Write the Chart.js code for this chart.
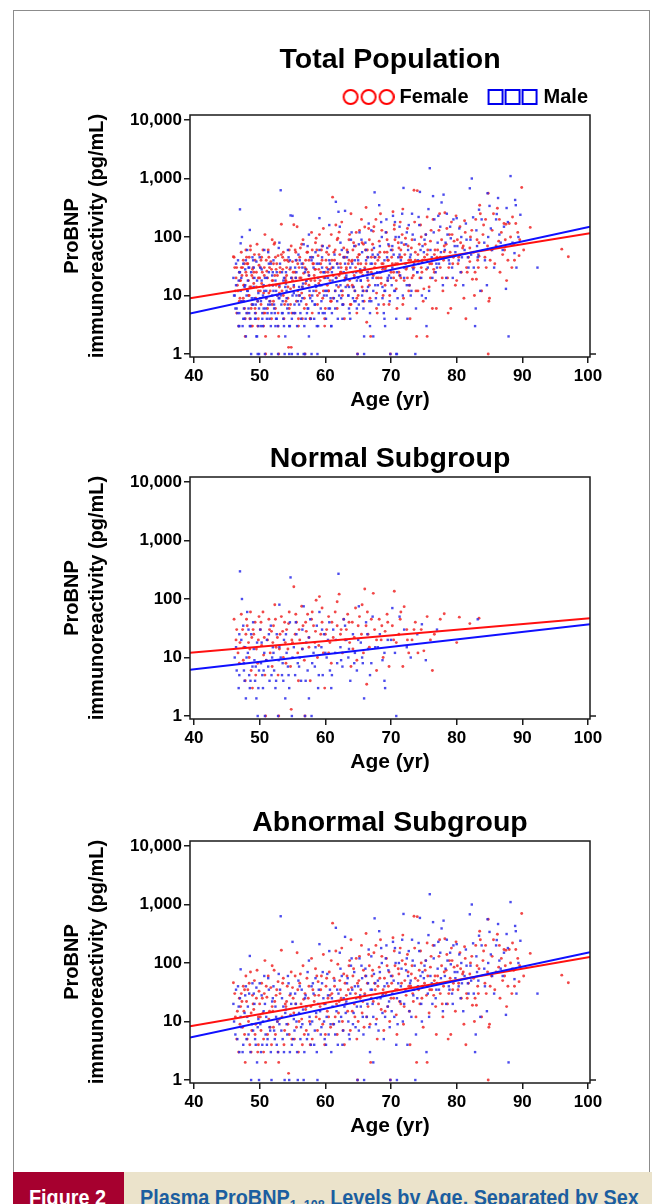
<!DOCTYPE html>
<html>
<head>
<meta charset="utf-8">
<script src="https://cdn.jsdelivr.net/npm/chart.js"></script>
<style>
  body { margin: 0; width: 657px; height: 1204px; overflow: hidden; position: relative; background: #fff; }
  .frame { position: absolute; left: 13px; top: 10px; width: 637px; height: 1200px; border: 1.5px solid #8c8c8c; box-sizing: border-box; }
  canvas { position: absolute; left: 20px; }
  .fig { position: absolute; left: 13px; top: 1172px; width: 111px; height: 40px; background: #a6002f; }
  .ttl { position: absolute; left: 124px; top: 1172px; width: 528px; height: 40px; background: #ebe3cb; }
  .cap { position: absolute; top: 13px; left: 16px; line-height: 25px; font-family: "Liberation Sans", Arial, sans-serif; font-weight: bold; font-size: 22px; white-space: nowrap; transform: scaleX(0.9); transform-origin: 0 0; }
  .fig .cap { color: #fff; }
  .ttl .cap { color: #1b5ea0; }
  .cap sub { font-size: 14px; vertical-align: -5px; }
</style>
</head>
<body>
<div class="frame"></div>
<canvas id="c1" width="620" height="400" style="top:20px"></canvas>
<canvas id="c2" width="620" height="352" style="top:430px"></canvas>
<canvas id="c3" width="620" height="351" style="top:795px"></canvas>
<div class="fig"><span class="cap">Figure 2</span></div>
<div class="ttl"><span class="cap">Plasma ProBNP<sub>1–108</sub> Levels by Age, Separated by Sex</span></div>

<script>
// [age, pg/mL]
const normalFemale = [
  [46.1,45],[46.4,20],[46.7,12],[46.9,8],
  [47.2,55],[47.4,30],[47.6,15],[47.8,4],[47.9,25],
  [48.1,35],[48.3,18],[48.4,10],[48.6,60],[48.7,6],[48.8,22],[48.9,3],
  [49.1,25],[49.3,40],[49.5,14],[49.7,8],[49.9,50],
  [50.1,30],[50.3,16],[50.5,60],[50.6,11],[50.8,5],[50.9,1],
  [51.2,20],[51.4,45],[51.6,12],[51.8,28],[51.9,7],
  [52.1,35],[52.3,80],[52.5,15],[52.7,22],[52.8,5],[52.9,1],
  [53.1,25],[53.3,50],[53.6,10],[53.8,40],[53.9,18],
  [54.1,30],[54.3,14],[54.5,60],[54.7,7],[54.8,1.3],[54.9,20],
  [55.2,162],[55.4,25],[55.6,40],[55.8,12],[55.9,4],
  [56.1,20],[56.4,75],[56.6,35],[56.8,9],[56.9,1],
  [57.1,28],[57.3,55],[57.5,15],[57.7,4],[57.9,45],
  [58.2,35],[58.4,18],[58.6,95],[58.8,10],
  [59.1,110],[59.3,25],[59.5,40],[59.7,12],[59.9,3],
  [60.2,30],[60.5,50],[60.7,18],[60.9,8],
  [61.2,22],[61.5,60],[61.8,35],
  [62.1,121],[62.3,25],[62.6,12],[62.8,45],
  [63.2,30],[63.4,55],[63.7,18],[63.9,7],
  [64.1,40],[64.4,22],[64.6,70],[64.8,9],
  [65.2,50],[65.5,25],[65.8,12],
  [66.0,148],[66.2,35],[66.4,60],[66.3,3.5],[66.7,15],
  [67.3,125],[67.5,30],[67.8,6],
  [68.2,45],[68.5,20],[68.8,10],
  [69.1,28],[69.4,55],[69.7,7],
  [70.5,136],[70.2,35],[70.8,18],
  [71.2,25],[71.5,60],[71.8,7],
  [72.0,74],[72.4,30],[72.7,12],
  [73.2,20],[73.7,40],[74.1,12],[74.6,30],
  [75.0,13],[75.5,50],[76.3,6],[76.6,25],
  [77.5,45],[78.1,56],[80.0,18],[80.4,49],[82.0,38],[83.4,47],
  [46.5,30],[47.0,18],[47.5,9],[48.0,45],[48.5,14],[49.0,30],[49.4,5],[49.8,20],[50.2,40],[50.7,22],
  [51.0,9],[51.5,30],[52.0,18],[52.4,45],[53.0,14],[53.5,28],[54.0,8],[54.4,38],[55.0,18],[55.5,55],
  [56.0,30],[56.5,14],[57.0,40],[57.5,22],[58.0,60],[58.5,28],[59.0,16],[59.5,70],[60.0,25],[60.5,12],
  [61.0,40],[61.8,90],[62.4,30],[63.0,20],[63.6,40],[64.2,14],[65.0,35],[65.6,80],[66.5,25],
  [67.0,45],[67.8,20],[68.6,35],[69.5,40],[70.4,20],[71.4,45],[72.5,20],[73.5,30],[76.0,20]
];
const normalMale = [
  [46.2,10],[46.5,6],[46.8,3],[46.9,25],
  [47.0,297],[47.3,100],[47.5,35],[47.6,8],[47.7,4],[47.8,15],[47.9,2],
  [48.1,60],[48.2,12],[48.4,5],[48.5,3],[48.7,25],[48.9,7],
  [49.0,40],[49.2,9],[49.3,4],[49.5,2],[49.6,18],[49.7,1],[49.9,6],
  [50.1,30],[50.2,8],[50.4,5],[50.5,3],[50.7,12],[50.8,1],
  [51.1,20],[51.3,7],[51.5,4],[51.7,35],[51.9,10],
  [52.0,15],[52.2,6],[52.4,3],[52.6,25],[52.8,1],[52.9,9],
  [53.0,80],[53.2,10],[53.4,5],[53.6,4],[53.7,20],[53.9,2],
  [54.1,12],[54.3,7],[54.5,3],[54.6,40],[54.9,1],
  [54.7,234],[55.2,15],[55.4,5],[55.6,25],[55.8,8],
  [56.1,10],[56.3,4],[56.5,30],[56.7,75],[56.9,1],
  [57.1,18],[57.3,6],[57.5,2],[57.7,45],[57.9,1],
  [58.2,12],[58.4,7],[58.7,35],[58.9,3],
  [59.1,60],[59.4,15],[59.6,5],[59.8,25],
  [60.2,10],[60.4,20],[60.7,6],[60.9,3],
  [61.2,30],[61.5,12],[61.8,8],
  [62.0,270],[62.3,15],[62.6,7],[62.8,45],
  [63.2,20],[63.5,10],[63.8,4],
  [64.2,25],[64.5,12],[64.8,6],
  [65.1,75],[65.4,18],[65.7,8],
  [65.9,2],[66.2,40],[66.5,14],[66.8,5],
  [67.2,50],[67.6,15],[68.3,25],[68.7,9],
  [69.0,4],[69.1,3],[69.5,20],[70.2,70],[70.6,12],
  [70.8,1],[71.3,50],[72.4,15],[74.0,25],[74.7,37],[75.3,9],[77.0,30],[83.2,45],
  [46.4,15],[46.9,5],[47.2,20],[47.6,6],[48.0,10],[48.3,30],[48.6,4],[49.1,14],[49.4,7],[49.8,3],
  [50.3,18],[50.6,6],[51.0,9],[51.4,25],[51.8,5],[52.1,12],[52.5,4],[53.0,15],[53.5,8],[54.0,25],
  [54.4,5],[55.0,10],[55.5,40],[56.0,7],[56.5,14],[57.0,4],[57.5,22],[58.0,8],[58.5,15],[59.0,5],
  [59.5,30],[60.0,12],[60.6,40],[61.0,5],[61.6,20],[62.4,9],[63.0,35],[63.6,14],[64.4,8],
  [65.0,20],[65.6,10],[66.4,25],[67.0,8],[68.0,15],[69.0,12],[70.0,20],[72.0,30],[73.0,10]
];

// [age, pg/mL]
const abnormalFemale = [
  [46.0,46],[46.3,12],[46.5,5],[46.8,3],[46.9,25],
  [47.1,18],[47.2,30],[47.4,8],[47.5,40],[47.7,6],[47.8,2],[47.9,60],[47.6,15],
  [48.0,22],[48.2,35],[48.3,10],[48.5,4],[48.6,70],[48.7,14],[48.8,7],[48.9,28],
  [49.1,16],[49.2,50],[49.4,9],[49.5,25],[49.7,3],[49.8,12],[49.9,33],
  [50.0,20],[50.8,110],[50.2,7],[50.3,45],[50.5,14],[50.6,5],[50.7,30],[50.9,2],
  [51.1,26],[51.3,60],[51.4,11],[51.6,8],[51.7,38],[51.8,4],[51.9,18],
  [52.0,15],[52.2,75],[52.3,22],[52.4,6],[52.6,35],[52.7,10],[52.8,48],[52.9,2],
  [53.1,30],[53.3,165],[53.4,12],[53.6,55],[53.8,7],[53.9,20],
  [54.0,18],[54.2,40],[54.3,9],[54.4,1.3],[54.6,28],[54.8,70],[54.9,5],
  [55.1,25],[55.2,14],[55.4,60],[55.6,8],[55.7,150],[55.8,35],[55.9,3],
  [56.1,45],[56.3,20],[56.4,11],[56.6,90],[56.8,6],[56.9,30],
  [57.0,16],[57.2,55],[57.4,25],[57.6,10],[57.7,4],[57.9,120],
  [58.1,35],[58.3,22],[58.5,80],[58.6,12],[58.8,7],[58.9,48],
  [59.0,28],[59.2,18],[59.4,60],[59.6,9],[59.7,140],[59.9,4],
  [60.1,40],[60.3,15],[60.4,25],[60.6,70],[60.8,8],[60.9,110],
  [61.0,30],[61.1,480],[61.3,55],[61.5,12],[61.7,20],[61.8,6],[61.9,95],
  [62.1,22],[62.3,35],[62.5,180],[62.6,10],[62.8,65],[62.9,4],
  [63.0,45],[63.2,28],[63.4,15],[63.6,90],[63.8,7],[63.9,250],
  [64.0,38],[64.2,60],[64.4,20],[64.5,12],[64.7,120],[64.8,5],[64.9,1],
  [65.1,50],[65.3,25],[65.5,200],[65.6,14],[65.8,75],[65.9,8],
  [66.0,30],[66.2,320],[66.4,45],[66.5,18],[66.7,90],[66.8,9],[66.9,2],
  [67.1,60],[67.3,22],[67.4,150],[67.6,35],[67.8,11],[67.9,5],
  [68.0,40],[68.2,85],[68.4,250],[68.5,16],[68.7,28],[68.9,7],
  [69.0,55],[69.2,30],[69.3,120],[69.5,18],[69.7,70],[69.8,10],[69.9,1],
  [70.1,45],[70.3,270],[70.4,25],[70.6,90],[70.8,13],[70.9,6],
  [71.0,35],[71.2,65],[71.4,180],[71.5,20],[71.7,110],[71.9,9],
  [72.1,50],[72.3,28],[72.5,140],[72.6,70],[72.8,15],[72.9,4],
  [73.0,40],[73.5,630],[73.2,90],[73.4,22],[73.7,55],[73.8,12],[73.9,2],
  [74.0,620],[74.2,35],[74.3,75],[74.5,160],[74.7,25],[74.9,8],
  [75.1,45],[75.3,110],[75.4,28],[75.6,60],[75.8,14],[75.5,2],
  [76.0,85],[76.2,35],[76.4,200],[76.6,50],[76.8,18],[76.9,6],
  [77.1,60],[77.3,130],[77.5,30],[77.7,90],[77.9,12],
  [78.0,40],[78.2,260],[78.4,75],[78.6,20],[78.7,5],[78.9,110],
  [79.0,55],[79.2,180],[79.4,35],[79.6,85],[79.1,6],[79.8,15],
  [80.1,90],[80.3,45],[80.5,150],[80.7,25],[80.9,65],
  [81.0,70],[81.1,9],[81.3,120],[81.5,30],[81.4,4],[81.8,45],
  [82.1,100],[82.4,19],[82.6,55],[82.8,25],[82.9,200],
  [83.5,350],[83.0,19],[83.2,40],[83.4,80],[83.6,250],[83.8,12],
  [84.1,160],[84.3,45],[84.5,30],[84.7,70],[84.9,8],
  [84.8,560],[85.0,9],[84.8,1],[85.6,250],[85.3,60],[85.8,35],
  [86.2,310],[86.4,85],[86.6,25],[86.8,120],
  [87.2,170],[87.6,18],[87.5,165],[87.3,60],[87.8,40],
  [88.5,220],[88.2,100],[88.4,30],[88.7,75],
  [89.0,170],[89.5,48],[89.3,120],[89.9,700],[90.2,60],
  [91.2,146],[96.0,62],[97.0,46],
  [46.2,30],[46.6,15],[47.0,9],[47.3,22],[47.7,35],[48.1,5],[48.4,45],[48.7,3],[49.0,20],[49.3,6],[49.6,75],[49.8,4],
  [50.1,12],[50.4,25],[50.6,3],[51.0,40],[51.2,6],[51.5,15],[51.9,90],[52.1,8],[52.5,28],[52.8,3],[53.0,11],[53.5,45],[53.7,4],
  [54.1,22],[54.5,6],[54.7,13],[55.0,38],[55.3,5],[55.5,20],[56.0,10],[56.2,65],[56.5,4],[56.7,24],[57.1,7],[57.5,40],[57.8,18],
  [58.0,5],[58.4,28],[58.7,60],[59.1,11],[59.3,35],[59.8,20],[60.0,6],[60.2,55],[60.5,12],[60.7,28],
  [61.2,9],[61.4,40],[61.6,160],[62.0,14],[62.2,50],[62.4,25],[62.7,7],[63.1,20],[63.3,60],[63.5,35],[63.7,110],
  [64.1,15],[64.3,80],[64.6,30],[64.9,45],[65.0,10],[65.2,130],[65.4,35],[65.7,22],[66.1,60],[66.3,12],[66.6,140],
  [67.0,25],[67.2,75],[67.5,45],[67.7,200],[68.1,20],[68.3,55],[68.6,130],[68.8,35],[69.1,15],[69.4,90],[69.6,40],
  [70.0,25],[70.2,60],[70.5,160],[70.7,35],[71.1,80],[71.3,22],[71.6,45],[71.8,300],[72.0,18],[72.2,95],[72.7,40],
  [73.1,65],[73.3,30],[73.6,180],[74.1,50],[74.4,20],[74.6,100],[74.8,40],[75.2,75],[75.5,220],[75.9,35],
  [76.1,130],[76.5,28],[76.7,60],[77.0,45],[77.4,250],[77.8,20],[78.1,70],[78.5,140],[78.8,30],[79.3,110],[79.5,45],[79.9,230],
  [80.2,35],[80.6,80],[81.2,190],[81.6,25],[82.0,65],[82.3,130],[82.7,10],[83.1,90],[83.3,30],[84.0,110],[84.4,200],[85.1,40],[85.4,130],
  [86.0,70],[86.5,200],[87.0,50],[87.4,90],[88.0,170],[88.8,40],[89.6,90]
];
const abnormalMale = [
  [46.1,10],[46.4,35],[46.6,5],[46.8,18],[46.9,3],
  [47.0,25],[47.2,8],[47.1,78],[47.5,4],[47.7,14],[47.9,40],
  [48.5,132],[48.1,12],[48.3,6],[48.4,30],[48.6,3],[48.8,9],[48.9,45],
  [49.0,7],[49.2,20],[49.3,5],[49.5,38],[49.6,2],[49.8,11],[49.9,1],
  [50.1,9],[50.3,28],[50.4,4],[50.6,15],[50.7,60],[50.9,6],
  [51.0,12],[51.2,5],[51.4,35],[51.5,8],[51.7,3],[51.9,22],
  [52.1,40],[52.2,7],[52.4,18],[52.6,4],[52.7,10],[52.9,65],
  [53.2,630],[53.0,9],[53.4,25],[53.5,5],[53.7,3],[53.9,14],
  [54.0,16],[54.2,6],[54.4,45],[54.5,1],[54.7,30],[54.9,4],
  [55.0,230],[55.2,11],[55.3,7],[55.5,20],[55.7,3],[55.9,50],
  [56.0,14],[56.2,5],[56.4,35],[56.5,9],[56.7,1],[56.9,25],
  [57.1,18],[57.3,70],[57.4,6],[57.6,12],[57.8,4],[57.9,40],
  [58.0,10],[58.2,30],[58.4,7],[58.5,55],[58.7,3],[58.9,20],
  [59.1,210],[59.2,15],[59.4,8],[59.5,45],[59.7,25],[59.9,5],
  [60.0,20],[60.2,12],[60.3,65],[60.5,6],[60.7,35],[60.9,3],
  [61.0,25],[61.6,400],[61.3,9],[61.4,50],[61.7,15],[61.9,4],
  [62.0,30],[62.2,150],[62.4,12],[62.5,60],[62.7,7],[62.9,18],
  [63.0,280],[63.2,22],[63.3,45],[63.5,10],[63.7,5],[63.9,90],
  [64.1,35],[64.3,14],[64.4,70],[64.6,8],[64.7,25],[64.9,1],
  [65.0,40],[65.2,120],[65.4,18],[65.6,55],[65.8,6],
  [66.0,28],[66.1,80],[66.3,12],[66.5,45],[66.6,170],[66.8,3],
  [67.5,580],[67.1,35],[67.2,20],[67.4,65],[67.7,9],[67.3,2],
  [68.0,50],[68.2,350],[68.4,25],[68.6,100],[68.7,14],[68.9,5],
  [69.0,40],[69.3,200],[69.5,18],[69.6,75],[69.8,8],
  [70.0,60],[70.2,30],[70.3,230],[70.5,12],[70.7,100],[70.8,4],[70.9,1],
  [71.1,45],[71.3,150],[71.4,22],[71.6,80],[71.8,10],
  [71.9,690],[72.2,35],[72.4,120],[72.6,60],[72.8,15],
  [73.0,50],[73.2,250],[73.4,28],[73.6,90],[73.8,6],
  [74.4,590],[74.1,40],[74.3,160],[74.6,20],[74.8,70],
  [75.0,55],[75.4,3],[75.3,110],[75.6,30],[75.8,12],
  [75.9,1500],[76.4,500],[76.2,45],[76.6,200],[76.8,25],
  [77.7,390],[77.1,80],[77.3,35],[77.5,150],
  [78.0,530],[78.2,60],[78.4,20],[78.6,110],[78.8,40],
  [79.1,95],[79.3,30],[79.5,200],[79.8,55],
  [80.1,70],[80.4,140],[80.6,25],[80.8,45],
  [81.2,60],[81.5,90],[81.8,30],
  [82.3,1000],[82.0,680],[82.5,217],[82.9,6],[82.8,3],[82.2,50],
  [83.4,293],[83.6,12],[83.1,70],
  [84.6,15],[84.3,40],[84.8,100],
  [84.7,560],[85.0,340],[85.4,60],
  [86.3,464],[86.1,247],[86.7,80],
  [87.6,313],[87.5,13],[87.9,2],[87.2,150],
  [88.2,1100],[88.9,430],[88.8,53],
  [89.7,240],[89.1,30],[89.4,100],[92.3,30],
  [46.0,20],[46.3,6],[46.7,40],[47.1,12],[47.4,3],[47.8,28],[48.0,5],[48.2,18],[48.7,1],[49.1,30],[49.4,4],[49.7,8],
  [50.0,45],[50.2,3],[50.5,10],[50.8,20],[51.1,4],[51.3,55],[51.6,7],[51.8,1],[52.0,25],[52.3,5],[52.5,12],[52.8,3],
  [53.1,35],[53.3,7],[53.6,18],[53.8,1],[54.1,9],[54.3,60],[54.6,3],[54.8,20],[55.1,5],[55.4,30],[55.6,10],[55.8,1],
  [56.1,40],[56.3,8],[56.6,16],[56.8,3],[57.0,28],[57.2,5],[57.5,110],[57.7,9],[58.1,45],[58.3,4],[58.6,14],[58.8,1],
  [59.0,35],[59.3,6],[59.6,70],[59.8,10],[60.1,4],[60.4,28],[60.6,160],[60.8,9],[61.1,18],[61.5,6],[61.8,35],
  [62.1,10],[62.3,80],[62.6,4],[62.8,25],[63.1,14],[63.4,55],[63.6,6],[63.8,30],[64.0,120],[64.2,9],[64.5,40],[64.8,18],
  [65.1,7],[65.3,28],[65.5,90],[65.7,12],[65.9,1],[66.2,60],[66.4,20],[66.7,8],[66.9,35],[67.0,130],[67.3,12],[67.6,45],[67.9,25],
  [68.1,7],[68.3,70],[68.5,180],[68.8,30],[69.1,12],[69.2,120],[69.4,45],[69.7,22],[69.9,1],
  [70.1,15],[70.4,50],[70.6,180],[70.9,25],[71.0,9],[71.2,100],[71.5,40],[71.7,250],[72.0,20],[72.3,75],[72.5,4],[72.7,160],[72.9,45],
  [73.1,12],[73.3,110],[73.5,35],[73.7,1],[74.0,25],[74.2,220],[74.5,60],[74.7,10],[75.1,90],[75.5,40],[75.7,300],
  [76.0,60],[76.3,20],[76.5,120],[76.9,35],[77.2,230],[77.6,55],[77.9,15],[78.3,80],[78.5,250],[78.9,35],
  [79.0,150],[79.4,20],[79.7,70],[80.0,210],[80.3,40],[80.7,100],[81.0,15],[81.4,170],[81.7,45],[82.1,90],[82.6,30],
  [83.0,130],[83.3,50],[83.8,200],[84.2,80],[85.2,140],[85.7,30],[86.0,200],[86.5,110],[87.0,60],[87.8,180],[88.5,80],[89.0,350]
];

// the total population is both subgroups together
const totalFemale = normalFemale.concat(abnormalFemale);
const totalMale = normalMale.concat(abnormalMale);

// regression lines, [age, pg/mL] at the two ends of the age axis
const totalFemaleFit = [[39.39, 9.0], [100.3, 116]];
const totalMaleFit = [[39.39, 4.9], [100.3, 150]];
const normalFemaleFit = [[39.39, 12.0], [100.3, 47]];
const normalMaleFit = [[39.39, 6.2], [100.3, 37]];
const abnormalFemaleFit = [[39.39, 8.3], [100.3, 127]];
const abnormalMaleFit = [[39.39, 5.3], [100.3, 153]];

const xTicks = [40, 50, 60, 70, 80, 90, 100];
const yTicks = [1, 10, 100, 1000, 10000];
const panelTitles = ['Total Population', 'Normal Subgroup', 'Abnormal Subgroup'];

const FONT = '"Liberation Sans", Arial, sans-serif';
Chart.defaults.font.family = FONT;
Chart.defaults.font.weight = 'bold';
Chart.defaults.color = '#000';

function toPoints(arr) {
  return arr.map(p => ({ x: p[0], y: p[1] }));
}

function makeIcon(kind, color) {
  const c = document.createElement('canvas');
  c.width = 73;
  c.height = 18;
  const g = c.getContext('2d');
  g.strokeStyle = color;
  g.lineWidth = 2;
  for (let i = 0; i < 3; i++) {
    g.beginPath();
    if (kind === 'circle') {
      g.arc(29 + i * 18, 9, 7, 0, Math.PI * 2);
    } else {
      g.rect(23 + i * 17, 2, 14, 14);
    }
    g.stroke();
  }
  return c;
}

const femaleIcon = makeIcon('circle', '#ff0000');
const maleIcon = makeIcon('rect', '#0000ee');

// box around the plot, the little stub at 1 on the right, and the panel title
const panelPlugin = {
  id: 'panelTitle',
  afterDraw(chart, args, opts) {
    const ctx = chart.ctx;
    const a = chart.chartArea;
    ctx.save();
    ctx.strokeStyle = '#1a1a1a';
    ctx.lineWidth = 1.5;
    ctx.strokeRect(a.left, a.top, a.right - a.left, a.bottom - a.top);
    const y1 = chart.scales.y.getPixelForValue(1);
    ctx.beginPath();
    ctx.moveTo(a.right, y1);
    ctx.lineTo(a.right + 6, y1);
    ctx.stroke();
    ctx.fillStyle = '#000';
    ctx.font = 'bold 28.5px ' + FONT;
    ctx.textAlign = 'center';
    ctx.textBaseline = 'alphabetic';
    ctx.fillText(opts.text, (a.left + a.right) / 2, opts.y);
    ctx.restore();
  }
};

function makePanel(id, title, titleY, padTop, female, male, femaleFit, maleFit, withLegend) {
  const ctx = document.getElementById(id);
  const grid = { drawOnChartArea: false, drawTicks: true, tickLength: 6, color: '#1a1a1a', lineWidth: 1.5 };

  new Chart(ctx, {
    type: 'scatter',
    data: {
      datasets: [
        {
          label: 'Male fit',
          data: toPoints(maleFit),
          showLine: true,
          borderColor: '#1010ff',
          borderWidth: 2,
          pointRadius: 0
        },
        {
          label: 'Female fit',
          data: toPoints(femaleFit),
          showLine: true,
          borderColor: '#ff1010',
          borderWidth: 2,
          pointRadius: 0
        },
        {
          label: 'Male',
          data: toPoints(male),
          pointStyle: 'rect',
          pointRadius: 1.7,
          borderWidth: 0,
          backgroundColor: 'rgba(45,45,235,0.85)'
        },
        {
          label: 'Female',
          data: toPoints(female),
          pointStyle: 'circle',
          pointRadius: 1.45,
          borderWidth: 0,
          backgroundColor: 'rgba(240,40,40,0.85)'
        }
      ]
    },
    options: {
      responsive: false,
      animation: false,
      devicePixelRatio: 1,
      layout: {
        padding: { left: 10, right: 50, top: padTop, bottom: 0 }
      },
      scales: {
        x: {
          type: 'linear',
          min: 39.39,
          max: 100.3,
          afterBuildTicks: s => { s.ticks = xTicks.map(v => ({ value: v })); },
          afterFit: s => { s.height = 63; },
          grid: grid,
          border: { display: false },
          ticks: {
            color: '#000',
            font: { size: 17, weight: 'bold' },
            padding: 3,
            maxRotation: 0,
            autoSkip: false
          },
          title: {
            display: true,
            text: 'Age (yr)',
            color: '#000',
            font: { size: 21, weight: 'bold' },
            padding: { top: 0, bottom: 7 }
          }
        },
        y: {
          type: 'logarithmic',
          min: 0.889,
          max: 12180,
          afterBuildTicks: s => { s.ticks = yTicks.map(v => ({ value: v })); },
          afterFit: s => { s.width = 160; },
          grid: grid,
          border: { display: false },
          ticks: {
            color: '#000',
            font: { size: 17, weight: 'bold' },
            padding: 2,
            autoSkip: false,
            callback: v => Number(v).toLocaleString('en-US')
          },
          title: {
            display: true,
            text: ['ProBNP', 'immunoreactivity (pg/mL)'],
            color: '#000',
            font: { size: 20, weight: 'bold', lineHeight: 1.25 },
            padding: { top: 29.5, bottom: 0 }
          }
        }
      },
      plugins: {
        tooltip: { enabled: false },
        panelTitle: { text: title, y: titleY },
        legend: {
          display: withLegend,
          position: 'top',
          align: 'end',
          maxHeight: 30,
          labels: {
            usePointStyle: true,
            pointStyleWidth: 63,
            padding: 2,
            color: '#000',
            font: { size: 20, weight: 'bold' },
            generateLabels: () => [
              { text: 'Female', pointStyle: femaleIcon, fillStyle: 'rgba(0,0,0,0)', strokeStyle: 'rgba(0,0,0,0)', lineWidth: 0, datasetIndex: 3, hidden: false },
              { text: 'Male', pointStyle: maleIcon, fillStyle: 'rgba(0,0,0,0)', strokeStyle: 'rgba(0,0,0,0)', lineWidth: 0, datasetIndex: 2, hidden: false }
            ]
          }
        }
      }
    },
    plugins: [panelPlugin]
  });
}

makePanel('c1', panelTitles[0], 48, 65, totalFemale, totalMale, totalFemaleFit, totalMaleFit, true);
makePanel('c2', panelTitles[1], 37, 47, normalFemale, normalMale, normalFemaleFit, normalMaleFit, false);
makePanel('c3', panelTitles[2], 36, 46, abnormalFemale, abnormalMale, abnormalFemaleFit, abnormalMaleFit, false);
</script>
</body>
</html>
